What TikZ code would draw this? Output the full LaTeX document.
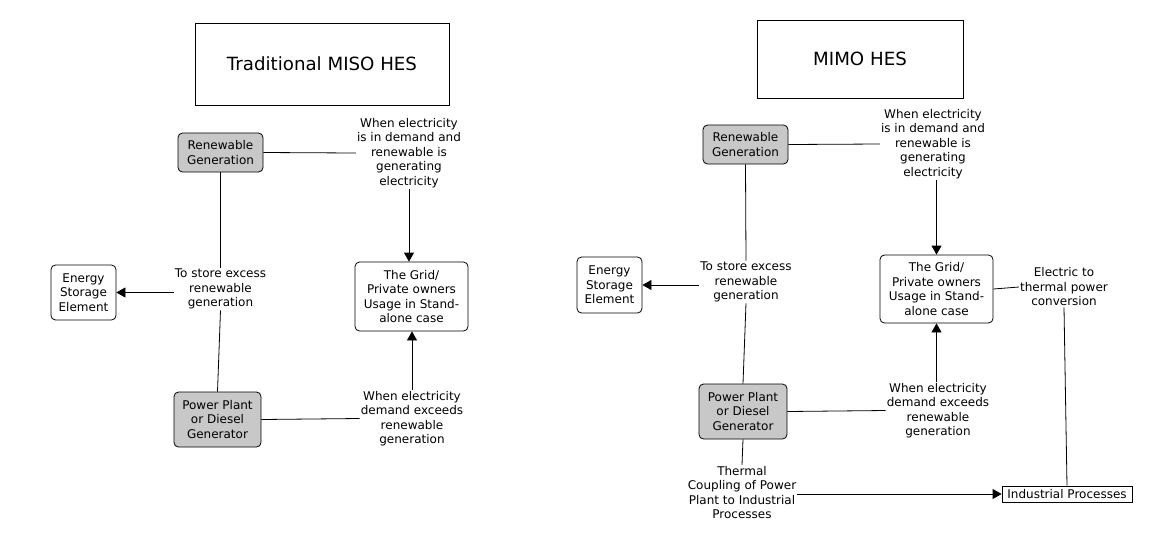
\documentclass[tikz,border=0pt]{standalone}
\usepackage{fontspec}
\setmainfont{DejaVu Sans}
\usetikzlibrary{arrows.meta}
\definecolor{boxgray}{RGB}{200,200,200}
\begin{document}
\begin{tikzpicture}[x=1pt,y=-1pt,
  font=\fontsize{12}{14.5}\selectfont,
  box/.style={draw, rounded corners=4.5pt, line width=0.8pt, align=center, inner sep=0pt},
  gbox/.style={box, fill=boxgray},
  sqbox/.style={draw, line width=0.8pt, align=center, inner sep=0pt},
  lbl/.style={align=center, inner sep=1pt},
  conn/.style={line width=0.8pt},
  arr/.style={conn, -{Triangle[length=9pt,width=10pt]}}]
\useasboundingbox[fill=white] (0,0) rectangle (1163,542);

% ---------- Left: Traditional MISO HES ----------
\node[sqbox, minimum width=254, minimum height=82, font=\fontsize{18.2}{22}\selectfont] (t1) at (322,64) {Traditional MISO HES};
\node[gbox, minimum width=85, minimum height=39] (rg) at (220.5,152.5) {Renewable\\Generation};
\node[box, minimum width=113, minimum height=69] (grid) at (411.5,296.5) {The Grid/\\Private owners\\Usage in Stand-\\alone case};
\node[box, minimum width=65, minimum height=55] (es) at (83.5,292.5) {Energy\\Storage\\Element};
\node[gbox, minimum width=87, minimum height=55] (pp) at (217.5,419.5) {Power Plant\\or Diesel\\Generator};
\node[lbl] (l1) at (409,153) {When electricity\\is in demand and\\renewable is\\generating\\electricity};
\node[lbl] (l2) at (220.5,289) {To store excess\\renewable\\generation};
\node[lbl] (l3) at (412,418.5) {When electricity\\demand exceeds\\renewable\\generation};

\draw[conn] (rg.east) -- (l1.west);
\draw[arr] (l1.south) -- (l1.south |- grid.north);
\draw[conn] (rg.south) -- (l2.north);
\draw[conn] (pp.north) -- (l2.south);
\draw[arr] (l2.west |- es.east) -- (es.east);
\draw[conn] (pp.east) -- (l3.west);
\draw[arr] (l3.north) -- (l3.north |- grid.south);

% ---------- Right: MIMO HES ----------
\node[sqbox, minimum width=206, minimum height=78, font=\fontsize{18.2}{22}\selectfont] (t2) at (860,59) {MIMO HES};
\node[gbox, minimum width=85, minimum height=39] (rg2) at (745.5,144.5) {Renewable\\Generation};
\node[box, minimum width=113, minimum height=68] (grid2) at (936.5,289) {The Grid/\\Private owners\\Usage in Stand-\\alone case};
\node[box, minimum width=65, minimum height=56] (es2) at (609.5,285) {Energy\\Storage\\Element};
\node[gbox, minimum width=88, minimum height=55] (pp2) at (743,411.5) {Power Plant\\or Diesel\\Generator};
\node[sqbox, minimum width=130, minimum height=16] (ip) at (1067,494) {Industrial Processes};
\node[lbl] (m1) at (933,144) {When electricity\\is in demand and\\renewable is\\generating\\electricity};
\node[lbl] (m2) at (746,282) {To store excess\\renewable\\generation};
\node[lbl] (m3) at (938,410.5) {When electricity\\demand exceeds\\renewable\\generation};
\node[lbl] (m4) at (1064,287) {Electric to\\thermal power\\conversion};
\node[lbl] (m5) at (742,492.5) {Thermal\\Coupling of Power\\Plant to Industrial\\Processes};

\draw[conn] (rg2.east) -- (m1.west);
\draw[arr] (grid2.north |- m1.south) -- (grid2.north);
\draw[conn] (rg2.south) -- (m2.north);
\draw[conn] (pp2.north) -- (m2.south);
\draw[arr] (m2.west |- es2.east) -- (es2.east);
\draw[conn] (pp2.east) -- (m3.west);
\draw[arr] (grid2.south |- m3.north) -- (grid2.south);
\draw[conn] (grid2.east) -- (m4.west);
\draw[conn] (m4.south) -- (ip.north);
\draw[conn] (pp2.south) -- (m5.north);
\draw[arr] (m5.east |- ip.west) -- (ip.west);
\end{tikzpicture}
\end{document}
